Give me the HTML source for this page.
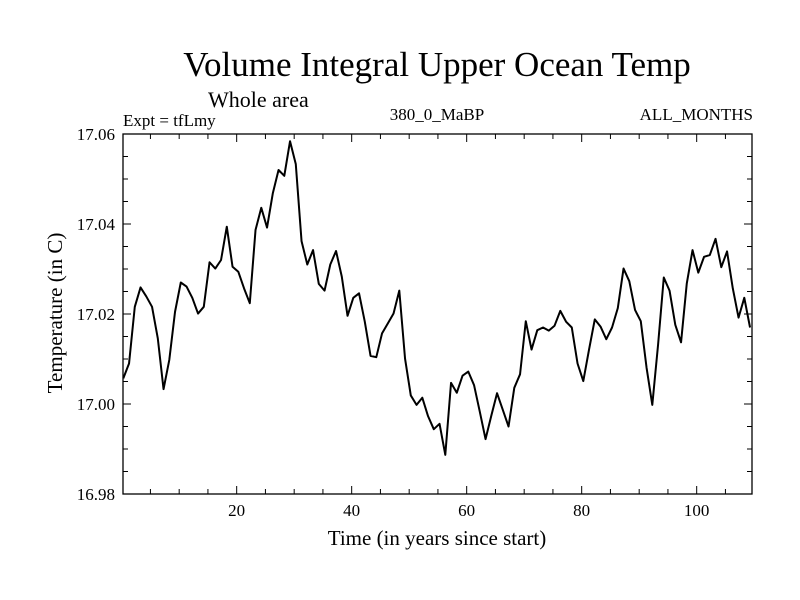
<!DOCTYPE html>
<html><head><meta charset="utf-8"><style>
body{margin:0;background:#fff}
svg{display:block;font-family:"Liberation Serif",serif}
</style></head><body>
<svg id="chart" width="800" height="600">
<text x="437" y="76" font-size="35" text-anchor="middle">Volume Integral Upper Ocean Temp</text>
<text x="208" y="107" font-size="22">Whole area</text>
<text x="123" y="126" font-size="17">Expt = tfLmy</text>
<text x="437" y="120" font-size="17" text-anchor="middle">380_0_MaBP</text>
<text x="753" y="120" font-size="17" text-anchor="end">ALL_MONTHS</text>
<text x="437" y="545" font-size="21" text-anchor="middle">Time (in years since start)</text>
<text transform="translate(62,313) rotate(-90)" font-size="21" text-anchor="middle">Temperature (in C)</text>
<g id="axes"></g>
<path id="line" fill="none" stroke="#000" stroke-width="2" stroke-linejoin="round"/>
<rect x="123" y="134" width="629" height="360" fill="none" stroke="#000" stroke-width="1.3"/>
</svg>
<script>
const values=[17.0057,17.0090,17.0216,17.0259,17.0239,17.0216,17.0146,17.0033,17.0098,17.0205,
17.0270,17.0261,17.0236,17.0201,17.0216,17.0315,17.0301,17.0320,17.0394,17.0305,
17.0294,17.0257,17.0224,17.0387,17.0436,17.0392,17.0468,17.0520,17.0507,17.0584,
17.0533,17.0362,17.0310,17.0342,17.0267,17.0252,17.0310,17.0340,17.0283,17.0196,
17.0236,17.0246,17.0183,17.0107,17.0104,17.0157,17.0179,17.0201,17.0252,17.0101,
17.0019,16.9998,17.0014,16.9973,16.9944,16.9956,16.9887,17.0047,17.0025,17.0063,
17.0072,17.0042,16.9983,16.9922,16.9974,17.0024,16.9987,16.9950,17.0036,17.0066,
17.0184,17.0121,17.0164,17.0170,17.0163,17.0174,17.0207,17.0183,17.0170,17.0090,
17.0051,17.0121,17.0188,17.0172,17.0144,17.0170,17.0213,17.0301,17.0273,17.0209,
17.0184,17.0081,16.9998,17.0131,17.0281,17.0252,17.0176,17.0137,17.0268,17.0342,
17.0292,17.0327,17.0331,17.0367,17.0304,17.0339,17.0257,17.0192,17.0236,17.0170];
const firstYear=0.28;
const xTickLabels=[20,40,60,80,100];
const yTickLabels=["16.98","17.00","17.02","17.04","17.06"];
const L=123,R=752,T=134,B=494,xmin=0.23,xmax=109.62,ymin=16.98,ymax=17.06;
const x=v=>L+(v-xmin)/(xmax-xmin)*(R-L);
const y=v=>B-(v-ymin)/(ymax-ymin)*(B-T);
const NS="http://www.w3.org/2000/svg";
const line=document.getElementById('line');
line.setAttribute('d',values.map((v,i)=>(i?'L':'M')+x(firstYear+i).toFixed(2)+','+y(v).toFixed(2)).join(''));
const g=document.getElementById('axes');
function ln(x1,y1,x2,y2,name){const e=document.createElementNS(NS,'line');
e.setAttribute('x1',x1);e.setAttribute('y1',y1);e.setAttribute('x2',x2);e.setAttribute('y2',y2);
e.setAttribute('stroke','#000');e.setAttribute('stroke-width','1');


g.appendChild(e);}
function tx(X,Y,s,anchor,name){const e=document.createElementNS(NS,'text');
e.setAttribute('x',X);e.setAttribute('y',Y);e.setAttribute('font-size','17');e.setAttribute('text-anchor',anchor);e.textContent=s;


g.appendChild(e);}
for(let t=5;t<xmax;t+=5){const X=x(t),M=t%20===0,len=M?8:5;
ln(X,B,X,B-len,'x-tick');ln(X,T,X,T+len,'x-tick-top');}
xTickLabels.forEach(t=>tx(x(t),B+22,String(t),'middle','x-tick-label'));
for(let k=0;k<=16;k++){const v=ymin+k*0.005,Y=y(v),M=k%4===0,len=M?8:5;
ln(L,Y,L+len,Y,'y-tick');ln(R,Y,R-len,Y,'y-tick-right');}
yTickLabels.forEach(s=>tx(115,y(parseFloat(s))+6,s,'end','y-tick-label'));
</script>
</body></html>
